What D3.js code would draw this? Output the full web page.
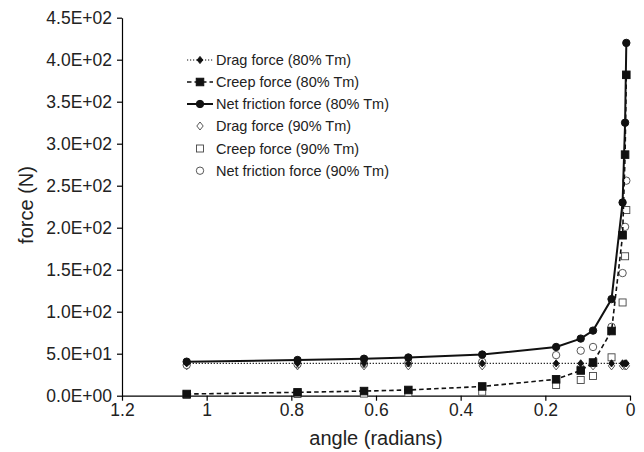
<!DOCTYPE html>
<html>
<head>
<meta charset="utf-8">
<script src="https://cdn.jsdelivr.net/npm/d3@7"></script>
<style>
  body { margin: 0; background: #fff; }
  svg text { font-family: "Liberation Sans", Arial, Helvetica, sans-serif; fill: #222; }
  .axis path, .axis line { stroke: #000; stroke-width: 1.2; }
</style>
</head>
<body>
<div id="chart"></div>
<script>
// angles in radians (x) and forces in N (y)
let angles   = [1.0472, 0.7854, 0.6283, 0.5236, 0.3491, 0.1745, 0.1164, 0.0873, 0.0436, 0.0175, 0.0116, 0.0087];
let drag80   = [38.5, 38.5, 38.5, 38.5, 38.5, 38.5, 38.5, 38.5, 38.5, 38.5, 38.5, 38.5];
let creep80  = [2, 4, 5.5, 6.8, 11, 19.5, 30, 39.5, 77, 191, 287, 382];
let net80    = [40.5, 42.5, 44, 45.5, 49, 58, 68, 77.5, 115, 230, 325, 420];
let drag90   = [35.5, 35.5, 35.5, 35.5, 35.5, 35.5, 35.5, 35.5, 35.5, 35.5, 35.5, 35.5];
let creep90  = [1, 2, 2.5, 3.5, 4.8, 12.7, 18.7, 23.5, 45.7, 111, 166, 221];
let net90    = [36.5, 37.5, 38, 39, 40.3, 48.3, 53.6, 58, 82, 146, 201, 256];

let xTicks = [1.2, 1, 0.8, 0.6, 0.4, 0.2, 0];
let yTicks = [0, 50, 100, 150, 200, 250, 300, 350, 400, 450];

let series = [
  {name: "Drag force (80% Tm)",         values: drag80,  line: "dot",   marker: "diamond", filled: true},
  {name: "Creep force (80% Tm)",        values: creep80, line: "dash",  marker: "square",  filled: true},
  {name: "Net friction force (80% Tm)", values: net80,   line: "solid", marker: "circle",  filled: true},
  {name: "Drag force (90% Tm)",         values: drag90,  line: null,    marker: "diamond", filled: false},
  {name: "Creep force (90% Tm)",        values: creep90, line: null,    marker: "square",  filled: false},
  {name: "Net friction force (90% Tm)", values: net90,   line: null,    marker: "circle",  filled: false}
];

const W = 644, H = 452;
const x = d3.scaleLinear().domain([1.2, 0]).range([122, 630]);
const y = d3.scaleLinear().domain([0, 450]).range([395.7, 17.7]);

const svg = d3.select("#chart").append("svg")
    .attr("width", W)
    .attr("height", H);

// axes
let xAxis = svg.append("g")
    .attr("class", "axis")
    .attr("transform", "translate(0," + y(0) + ")")
    .call(d3.axisBottom(x).tickValues(xTicks).tickSize(5).tickSizeOuter(0)
        .tickFormat(function(d){ return String(+d.toFixed(1)); }));
xAxis.selectAll("text")
    .style("font-size", "17.5px")
    .attr("dy", "0.95em")
    .attr("y", 4);

function sci(v) {
    if (v === 0) return "0.0E+00";
    let e = Math.floor(Math.log10(v));
    let m = v / Math.pow(10, e);
    return m.toFixed(1) + "E+" + (e < 10 ? "0" + e : e);
}

let yAxis = svg.append("g")
    .attr("class", "axis")
    .attr("transform", "translate(" + x(1.2) + ",0)")
    .call(d3.axisLeft(y).tickValues(yTicks).tickSize(5).tickSizeOuter(0).tickFormat(sci));
yAxis.selectAll("text")
    .style("font-size", "17.5px")
    .attr("x", -10);

svg.selectAll(".axis .domain").attr("stroke-width", 1.3);

// axis titles
svg.append("text")
    .attr("x", 376).attr("y", 445)
    .attr("text-anchor", "middle")
    .style("font-size", "20px")
    .text("angle (radians)");

svg.append("text")
    .attr("transform", "translate(33,205) rotate(-90)")
    .attr("text-anchor", "middle")
    .style("font-size", "20px")
    .text("force (N)");

// markers
function drawMarker(g, type, filled, cx, cy) {
    let fill = filled ? "#111" : "#fff";
    let stroke = filled ? "#111" : "#444";
    if (type === "circle") {
        g.append("circle").attr("cx", cx).attr("cy", cy).attr("r", 3.7)
            .attr("fill", fill).attr("stroke", stroke).attr("stroke-width", filled ? 1 : 0.9);
    } else if (type === "square") {
        let s = filled ? 7.5 : 7;
        g.append("rect").attr("x", cx - s / 2).attr("y", cy - s / 2).attr("width", s).attr("height", s)
            .attr("fill", fill).attr("stroke", stroke).attr("stroke-width", filled ? 1 : 0.9);
    } else {
        let r = filled ? 3.6 : 4;
        g.append("path")
            .attr("d", "M" + cx + "," + (cy - r) + "L" + (cx + r * 0.8) + "," + cy + "L" + cx + "," + (cy + r) + "L" + (cx - r * 0.8) + "," + cy + "Z")
            .attr("fill", fill).attr("stroke", stroke).attr("stroke-width", 0.9);
    }
}

function lineStyle(sel, kind) {
    sel.attr("fill", "none").attr("stroke", "#111");
    if (kind === "dot") sel.attr("stroke-width", 1.1).attr("stroke-dasharray", "1.2,1.8");
    else if (kind === "dash") sel.attr("stroke-width", 1.6).attr("stroke-dasharray", "4.5,3");
    else sel.attr("stroke-width", 2);
    return sel;
}

let line = d3.line()
    .x(function(d){ return x(d[0]); })
    .y(function(d){ return y(d[1]); });

let plot = svg.append("g");

// open (90%) markers first, then 80% series on top
[3, 4, 5, 0, 1, 2].forEach(function(i) {
    let s = series[i];
    let pts = angles.map(function(a, j){ return [a, s.values[j]]; });
    let g = plot.append("g");
    if (s.line) {
        lineStyle(g.append("path").attr("d", line(pts)), s.line);
    }
    pts.forEach(function(p){ drawMarker(g, s.marker, s.filled, x(p[0]), y(p[1])); });
});

// legend
let legend = svg.append("g");
let rowY = [60, 82, 104, 126, 148.5, 170.7];
series.forEach(function(s, i) {
    let g = legend.append("g");
    let yy = rowY[i];
    if (s.line) {
        lineStyle(g.append("line").attr("x1", 187).attr("x2", 213).attr("y1", yy).attr("y2", yy), s.line);
    }
    drawMarker(g, s.marker, s.filled, 200, yy);
    g.append("text")
        .attr("x", 216).attr("y", yy)
        .attr("dy", "0.36em")
        .style("font-size", "14.5px")
        .text(s.name);
});
</script>
</body>
</html>
